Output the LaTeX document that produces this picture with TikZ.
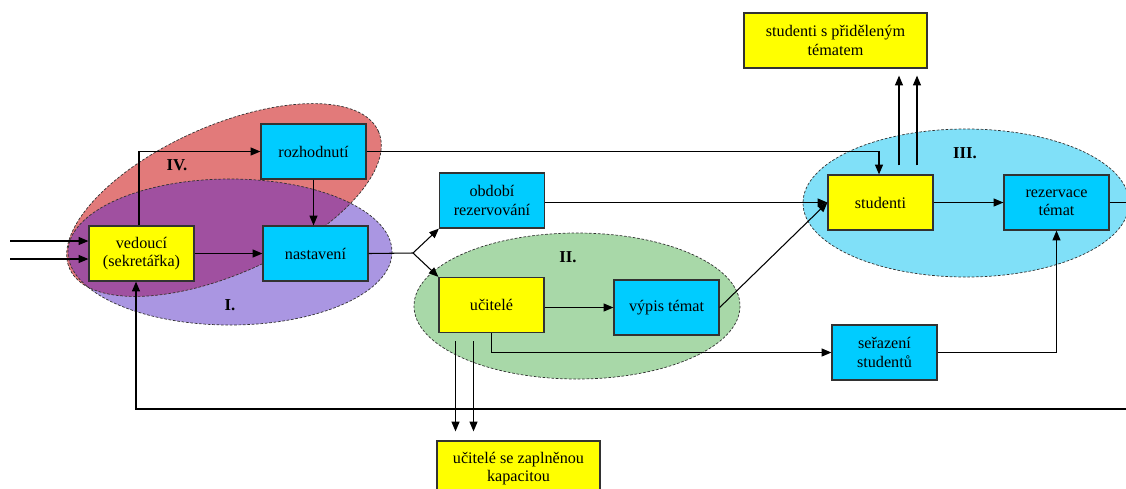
\documentclass[tikz,border=0pt]{standalone}
\usepackage{fontspec}
\setmainfont{Liberation Serif}
\usepackage{xcolor}
\usetikzlibrary{arrows.meta}

\definecolor{boxyellow}{RGB}{255,255,0}
\definecolor{boxcyan}{RGB}{0,204,255}
\definecolor{grpone}{RGB}{170,150,226}
\definecolor{grpfour}{RGB}{226,122,122}
\definecolor{grpmix}{RGB}{160,80,160}
\definecolor{grptwo}{RGB}{168,216,168}
\definecolor{grpthree}{RGB}{128,224,248}
\definecolor{edge}{RGB}{50,50,50}

\begin{document}
\begin{tikzpicture}[x=0.02cm, y=-0.02cm,
    box/.style={draw=edge, line width=0.7pt, minimum width=2.1cm, minimum height=1.1cm,
        inner sep=1pt, align=center, font=\fontsize{9.2}{10.5}\selectfont},
    ybox/.style={box, fill=boxyellow},
    cbox/.style={box, fill=boxcyan},
    grpline/.style={draw=edge, dashed, dash pattern=on 1.5pt off 1pt, line width=0.4pt},
    grplabel/.style={font=\fontsize{9.5}{10}\selectfont\bfseries},
    conn/.style={line width=0.6pt, -{Triangle[length=5.5pt, width=4.5pt]}},
    plain/.style={line width=0.6pt}]
    \useasboundingbox (0,0) rectangle (1126,488);
    \fill[white] (0,0) rectangle (1126,488);

    % groups
    \fill[grpone] (230,252) ellipse[x radius=162, y radius=73];
    \fill[grpfour, rotate around={24:(224,200)}] (224,200) ellipse[x radius=169, y radius=74];
    \begin{scope}
        \clip[rotate around={24:(224,200)}] (224,200) ellipse[x radius=169, y radius=74];
        \fill[grpmix] (230,252) ellipse[x radius=162, y radius=73];
    \end{scope}
    \path[grpline] (230,252) ellipse[x radius=162, y radius=73];
    \path[grpline, rotate around={24:(224,200)}] (224,200) ellipse[x radius=169, y radius=74];
    \path[grpline, fill=grptwo] (577,306) ellipse[x radius=163, y radius=73];
    \path[grpline, fill=grpthree] (966,203) ellipse[x radius=163, y radius=74];

    \node[grplabel] (labIV) at (177,165) {IV.};
    \node[grplabel] (labI) at (230,305) {I.};
    \node[grplabel] (labII) at (568,257) {II.};
    \node[grplabel] (labIII) at (965,153) {III.};

    % boxes
    \node[ybox] (ved) at (141.5,253.5) {vedoucí\\(sekretářka)};
    \node[cbox] (nast) at (315.5,253.5) {nastavení};
    \node[cbox] (rozh) at (313.5,151.5) {rozhodnutí};
    \node[cbox] (obd) at (492,200.5) {období\\rezervování};
    \node[ybox] (uc) at (491.5,305) {učitelé};
    \node[cbox] (vyp) at (666.5,307.5) {výpis témat};
    \node[ybox, minimum width=3.66cm] (spt) at (835.5,40.5) {studenti s přiděleným\\tématem};
    \node[ybox] (stud) at (880.5,202.5) {studenti};
    \node[cbox] (rez) at (1056.5,202.5) {rezervace\\témat};
    \node[cbox] (ser) at (884.5,352.5) {seřazení\\studentů};
    \node[ybox, minimum width=3.26cm] (ucz) at (518.5,468.5) {učitelé se zaplněnou\\kapacitou};

    % free ends
    \coordinate (inA) at (10,241);
    \coordinate (inB) at (10,259);
    \coordinate (fork) at (413,253);
    \coordinate (redge) at (1126,409);
    \coordinate (rexit) at (1126,202.5);

    % connectors
    \draw[conn] (inA) -- (inA -| ved.west);
    \draw[conn] (inB) -- (inB -| ved.west);
    \draw[conn] (ved) -- (nast);
    \draw[conn] ([xshift=-0.05cm]ved.north) |- (rozh.west);
    \draw[conn] (rozh.south) -- (rozh.south |- nast.north);
    \draw[conn] (rozh.east) -| ([xshift=-0.03cm]stud.north);
    \draw[plain] (nast.east) -- (fork);
    \draw[conn] (fork) -- (obd.south west);
    \draw[conn] (fork) -- (uc.north west);
    \draw[conn] (obd.east |- stud.west) -- (stud.west);
    \draw[conn] (vyp.east) -- (stud.west);
    \draw[conn] (uc.east |- vyp.west) -- (vyp.west);
    \draw[conn] (uc.south) |- (ser.west);
    \draw[conn] ([xshift=-0.72cm, yshift=-0.16cm]uc.south) -- ([xshift=-0.72cm, yshift=0.18cm]ucz.north -| uc.south);
    \draw[conn] ([xshift=-0.36cm, yshift=-0.16cm]uc.south) -- ([xshift=-0.36cm, yshift=0.18cm]ucz.north -| uc.south);
    \draw[conn] (ser.east) -| (rez.south);
    \draw[conn] (stud) -- (rez);
    \draw[conn] ([xshift=0.37cm, yshift=0.18cm]stud.north) -- ([xshift=0.37cm, yshift=-0.14cm]stud.north |- spt.south);
    \draw[conn] ([xshift=0.73cm, yshift=0.18cm]stud.north) -- ([xshift=0.73cm, yshift=-0.14cm]stud.north |- spt.south);
    \draw[plain] (rez.east) -- (rexit);
    \draw[conn] (redge) -| ([xshift=-0.11cm]ved.south);
\end{tikzpicture}
\end{document}
